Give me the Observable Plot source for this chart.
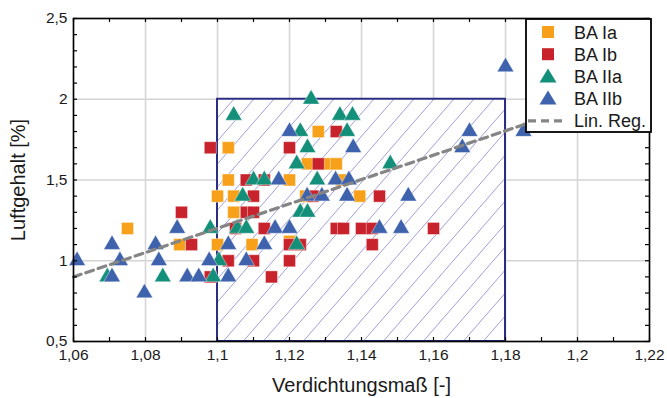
<!DOCTYPE html>
<html><head><meta charset="utf-8">
<script src="https://cdn.jsdelivr.net/npm/d3@7"></script>
<script src="https://cdn.jsdelivr.net/npm/@observablehq/plot@0.6"></script>
<style>
body{margin:0;background:#fff;}
#chart{width:667px;height:398px;}
</style></head><body><div id="chart"></div>
<script>
// ---- data ----
const seriesNames  = ["BA Ia", "BA Ib", "BA IIa", "BA IIb"];
const seriesColors = ["#F7A11A", "#C8232C", "#14907A", "#3E62AC"];
const seriesShapes = ["square", "square", "triangle", "triangle"];

const baIaX = [1.075, 1.0895, 1.100, 1.100, 1.103, 1.103, 1.1045, 1.1045, 1.1096, 1.120, 1.120, 1.1245, 1.125, 1.128, 1.131, 1.133, 1.1345, 1.1395];
const baIaY = [1.2,   1.1,    1.4,   1.1,   1.7,   1.5,   1.4,    1.3,    1.1,    1.5,   1.12,  1.4,    1.6,   1.8,   1.6,   1.6,   1.5,    1.4];

const baIbX = [1.090, 1.0928, 1.098, 1.098, 1.103, 1.105, 1.108, 1.108, 1.110, 1.110, 1.110, 1.113, 1.113, 1.115, 1.120, 1.120, 1.123, 1.120, 1.1265, 1.128, 1.133, 1.133, 1.135, 1.140, 1.143, 1.143, 1.145, 1.160];
const baIbY = [1.3,   1.1,    1.7,   0.9,   1.0,   1.2,   1.5,   1.3,   1.4,   1.3,   1.0,   1.5,   1.2,   0.9,   1.7,   1.1,   1.1,   1.0,   1.4,    1.6,   1.8,   1.2,   1.2,   1.2,   1.2,   1.1,   1.4,   1.2];

const baIIaX = [1.0694, 1.0848, 1.098, 1.0988, 1.1004, 1.1045, 1.1055, 1.107, 1.108, 1.110, 1.113, 1.122, 1.122, 1.123, 1.123, 1.125, 1.125, 1.126, 1.1277, 1.134, 1.1375, 1.136, 1.148];
const baIIaY = [0.9,    0.9,    1.2,   0.9,    1.0,    1.9,    1.2,    1.4,   1.2,   1.5,   1.5,   1.6,   1.1,   1.8,   1.3,   1.3,   1.7,   2.0,   1.5,    1.9,   1.9,    1.8,   1.6];

const baIIbX = [1.061, 1.0707, 1.0729, 1.0707, 1.0797, 1.0828, 1.0837, 1.0888, 1.0916, 1.0948, 1.0977, 1.103, 1.103, 1.108, 1.113, 1.116, 1.117, 1.120, 1.120, 1.1249, 1.129, 1.1328, 1.1365, 1.136, 1.1377, 1.145, 1.151, 1.153, 1.168, 1.170, 1.180, 1.185];
const baIIbY = [1.0,   1.1,    1.0,    0.9,    0.8,    1.1,    1.0,    1.2,    0.9,    0.9,    1.0,    1.1,   0.9,   1.0,   1.1,   1.2,   1.5,   1.2,   1.8,   1.4,    1.4,   1.5,    1.5,    1.4,   1.7,    1.2,   1.2,   1.4,   1.7,   1.8,   2.2,   1.8];

const regName = "Lin. Reg.";
const regX = [1.06, 1.19];
const regY = [0.90, 1.88];

const boxX = [1.10, 1.18];
const boxY = [0.5, 2.0];

const xTickValues = [1.06, 1.08, 1.10, 1.12, 1.14, 1.16, 1.18, 1.20, 1.22];
const yTickValues = [0.5, 1.0, 1.5, 2.0, 2.5];
const xLabel = "Verdichtungsmaß [-]";
const yLabel = "Luftgehalt [%]";

// ---- build ----
const xsList = [baIaX, baIbX, baIIaX, baIIbX];
const ysList = [baIaY, baIbY, baIIaY, baIIbY];
const points = [];
xsList.forEach((xs, s) => xs.forEach((x, i) => points.push({x, y: ysList[s][i], s})));
const reg = regX.map((x, i) => ({x, y: regY[i]}));
const box = [{x1: boxX[0], x2: boxX[1], y1: boxY[0], y2: boxY[1]}];
const xMinor = d3.range(106, 123).map(d => d / 100);
const yMinor = d3.range(5, 26).map(d => d / 10);
const fmt = d => String(+d.toFixed(2)).replace(".", ",");

const W = 667, H = 398, mL = 73, mR = 18, mT = 18, mB = 57;
const pH = H - mT - mB, pW = W - mL - mR;
const font = "'Liberation Sans',Arial,sans-serif";
const ink = "#1a1a1a";

const plot = Plot.plot({
  width: W, height: H,
  marginLeft: mL, marginRight: mR, marginTop: mT, marginBottom: mB,
  style: {fontFamily: font, background: "#fff", overflow: "visible"},
  x: {domain: [1.06, 1.22]},
  y: {domain: [0.5, 2.5]},
  marks: [
    Plot.gridX(xTickValues, {stroke: "#d4d4d4", strokeOpacity: 1, strokeWidth: 1.5}),
    Plot.gridY(yTickValues, {stroke: "#d4d4d4", strokeOpacity: 1, strokeWidth: 1.5}),
    Plot.rect(box, {x1: "x1", x2: "x2", y1: "y1", y2: "y2", fill: "url(#hatch)", stroke: "#2B2E83", strokeWidth: 2}),
    ...xsList.map((xs, s) => Plot.dot(points.filter(p => p.s === s), {
      x: "x", y: "y", symbol: () => seriesShapes[s],
      r: seriesShapes[s] === "square" ? 6.8 : 6.2,
      fill: seriesColors[s], stroke: "#fff", strokeWidth: 0.6, strokeOpacity: 0.7
    })),
    Plot.line(reg, {x: "x", y: "y", stroke: "#858585", strokeWidth: 3.2, strokeDasharray: "8,5"}),
    Plot.frame({stroke: "#000", strokeWidth: 1.6}),
    Plot.tickX(xMinor, {x: d => d, insetTop: pH - 4, stroke: "#000", strokeWidth: 1.2}),
    Plot.tickX(xMinor, {x: d => d, insetBottom: pH - 4, stroke: "#000", strokeWidth: 1.2}),
    Plot.tickY(yMinor, {y: d => d, insetRight: pW - 4, stroke: "#000", strokeWidth: 1.2}),
    Plot.tickY(yMinor, {y: d => d, insetLeft: pW - 4, stroke: "#000", strokeWidth: 1.2}),
    Plot.axisX(xTickValues, {tickSize: 0, tickPadding: 7, tickFormat: fmt, fontSize: 15.5, fill: ink, label: null}),
    Plot.axisY(yTickValues, {tickSize: 0, tickPadding: 6, tickFormat: fmt, fontSize: 15.5, fill: ink, label: null}),
    Plot.text([xLabel], {frameAnchor: "bottom", dy: 50, lineAnchor: "bottom", fontSize: 20, fill: ink, text: d => d}),
    Plot.text([yLabel], {frameAnchor: "left", dx: -55, rotate: -90, textAnchor: "middle", fontSize: 20, fill: ink, text: d => d})
  ]
});
document.getElementById("chart").appendChild(plot);

// hatch pattern
const svg = d3.select(plot);
const defs = svg.insert("defs", ":first-child");
const pat = defs.append("pattern").attr("id", "hatch").attr("patternUnits", "userSpaceOnUse")
  .attr("width", 20).attr("height", 23);
pat.append("rect").attr("width", 20).attr("height", 23).attr("fill", "#fff");
pat.append("line").attr("x1", -2).attr("y1", 25.3).attr("x2", 22).attr("y2", -2.3)
  .attr("stroke", "#A29ED8").attr("stroke-width", 1);

// legend
const lg = svg.append("g").attr("font-family", font).attr("text-anchor", "start");
const lx = 526, ly = 19, lw = 125, lh = 113;
lg.append("rect").attr("x", lx).attr("y", ly).attr("width", lw).attr("height", lh)
  .attr("fill", "#fff").attr("stroke", "#000").attr("stroke-width", 1.8);
const rowY = i => ly + 13 + i * 22.2;
seriesNames.forEach((name, i) => {
  const cy = rowY(i), cx = 548;
  if (seriesShapes[i] === "square") {
    lg.append("rect").attr("x", cx - 6).attr("y", cy - 6).attr("width", 12).attr("height", 12).attr("fill", seriesColors[i]);
  } else {
    lg.append("path").attr("d", `M${cx},${cy - 8}L${cx + 8.5},${cy + 6}L${cx - 8.5},${cy + 6}Z`).attr("fill", seriesColors[i]);
  }
  lg.append("text").attr("x", 574).attr("y", cy + 6.5).attr("font-size", 18).attr("fill", ink).text(name);
});
const ry = rowY(4);
lg.append("line").attr("x1", 528).attr("x2", 567).attr("y1", ry).attr("y2", ry)
  .attr("stroke", "#858585").attr("stroke-width", 3.2).attr("stroke-dasharray", "8,5");
lg.append("text").attr("x", 574).attr("y", ry + 6.5).attr("font-size", 18).attr("fill", ink).text(regName);
</script></body></html>
